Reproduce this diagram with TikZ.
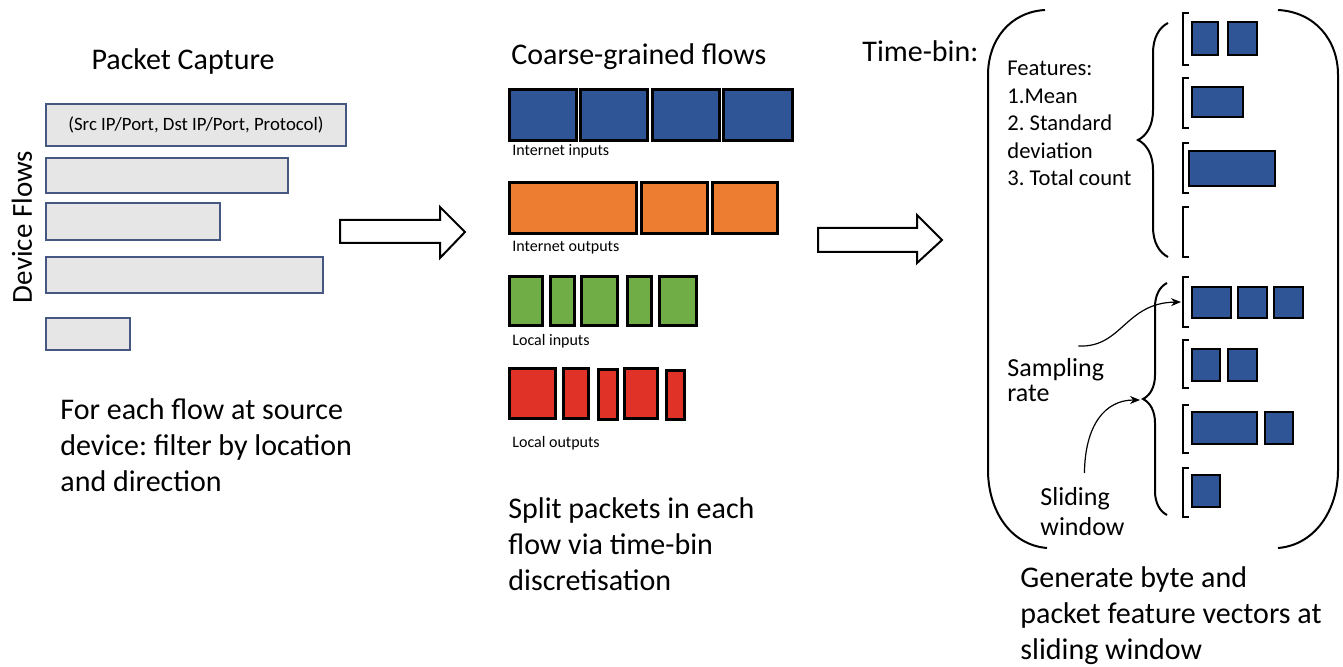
\documentclass[tikz,border=0pt]{standalone}
\usepackage{fontspec}
\setmainfont{Carlito}
\frenchspacing
\usetikzlibrary{arrows.meta,decorations.pathreplacing}
\definecolor{flowblue}{RGB}{47,85,151}
\definecolor{floworange}{RGB}{237,125,49}
\definecolor{flowgreen}{RGB}{112,173,71}
\definecolor{flowred}{RGB}{224,50,38}
\definecolor{bargray}{RGB}{231,230,230}
\definecolor{barline}{RGB}{70,88,130}

\begin{document}
\begin{tikzpicture}[x=0.5pt,y=-0.5pt,
  bigtext/.style={font=\fontsize{15}{18}\selectfont, inner sep=0pt},
  smalltext/.style={font=\fontsize{8}{9}\selectfont, inner sep=0pt},
  feattext/.style={font=\fontsize{11.3}{13.75}\selectfont, inner sep=0pt},
  flowbar/.style={fill=bargray, draw=barline, line width=0.6pt},
  binbox/.style={draw=black, line width=1.5pt},
  featbox/.style={fill=flowblue, draw=black, line width=1pt},
  blockarrow/.style={draw=black, line width=1pt, fill=white, line join=miter},
  sqbracket/.style={line width=1pt},
  curlybrace/.style={line width=1pt, decorate, decoration={brace, amplitude=#1}},
  pointer/.style={-{Stealth[length=5pt,width=4pt]}, line width=0.6pt}]
\useasboundingbox (0,0) rectangle (1343,667);
%  Packet capture: one bar per device flow
\node[bigtext, anchor=base] (pcap) at (183,70) {Packet Capture};
\node[font=\fontsize{14.5}{16}\selectfont, inner sep=0pt, rotate=90, anchor=base] (devflows) at (32,227) {Device Flows};
\draw[flowbar] (46,104) rectangle (346,146);
\draw[flowbar] (46,158) rectangle (288,193);
\draw[flowbar] (46,203) rectangle (220,240);
\draw[flowbar] (46,257) rectangle (323,293);
\draw[flowbar] (46,318) rectangle (130,350);
\node[font=\fontsize{9.4}{10}\selectfont, inner sep=0pt] (tuple) at (196,125) {(Src IP/Port, Dst IP/Port, Protocol)};
\node[bigtext, anchor=north west, align=left] (filter) at (60,398) {For each flow at source\\device: filter by location\\and direction};
%  first step arrow
\draw[blockarrow] (340,220) -- (440,220) -- (440,207) -- (465,232) -- (440,258) -- (440,243) -- (340,243) -- cycle;
%  Coarse-grained flows, split in time-bins
\node[bigtext, anchor=base west] (coarse) at (511,65) {Coarse-grained flows};
\draw[binbox, fill=flowblue] (509,90) rectangle (576,141) (580,90) rectangle (647,141)
  (652,90) rectangle (719,141) (723,90) rectangle (792,141);
\node[smalltext, anchor=base west] (inetin) at (512,156) {Internet inputs};
\draw[binbox, fill=floworange] (509,183) rectangle (636,234) (641,183) rectangle (707,234)
  (712,183) rectangle (777,234);
\node[smalltext, anchor=base west] (inetout) at (512,252) {Internet outputs};
\draw[binbox, fill=flowgreen] (509,277) rectangle (542,326) (550,277) rectangle (574,326)
  (581,277) rectangle (617,326) (627,277) rectangle (651,326) (659,277) rectangle (696,326);
\node[smalltext, anchor=base west] (locin) at (512,346) {Local inputs};
\draw[binbox, fill=flowred] (509,369) rectangle (555,419) (563,369) rectangle (588,419)
  (598,370) rectangle (617,420) (624,369) rectangle (657,419) (666,371) rectangle (684,420);
\node[smalltext, anchor=base west] (locout) at (512,448) {Local outputs};
\node[bigtext, anchor=north west, align=left] (split) at (508,497) {Split packets in each\\flow via time-bin\\discretisation};
%  second step arrow
\draw[blockarrow] (818,228) -- (917,228) -- (917,215) -- (942,240) -- (917,263) -- (917,252) -- (818,252) -- cycle;
%  Time-bin: features over sliding windows
\node[bigtext, anchor=base west] (timebin) at (862,62) {Time-bin:};
\draw[line width=1pt] (1045,10) .. controls (1010,12) and (988,40) .. (988,75) -- (988,470)
  .. controls (988,510) and (1010,545) .. (1047,548);
\draw[line width=1pt] (1278,10) .. controls (1315,12) and (1338,40) .. (1338,75) -- (1338,470)
  .. controls (1338,510) and (1315,545) .. (1278,548);
\node[feattext, anchor=north west, align=left] (feats) at (1007,61) {Features:\\1.Mean\\2. Standard\\deviation\\3. Total count};
% upper group of bins
\draw[curlybrace=15pt] (1168,257) -- (1168,23);
\draw[sqbracket] (1189,13) -- (1183,13) -- (1183,65) -- (1189,65)
  (1189,78) -- (1183,78) -- (1183,128) -- (1189,128)
  (1189,143) -- (1183,143) -- (1183,193) -- (1189,193)
  (1189,207) -- (1183,207) -- (1183,257) -- (1189,257);
\draw[featbox] (1192,22) rectangle (1218,55) (1228,22) rectangle (1257,55);
\draw[featbox] (1192,87) rectangle (1243,117);
\draw[featbox] (1189,151) rectangle (1275,186);
% lower group of bins
\draw[curlybrace=12pt] (1167,515) -- (1167,283);
\draw[sqbracket] (1189,277) -- (1183,277) -- (1183,327) -- (1189,327)
  (1189,340) -- (1183,340) -- (1183,388) -- (1189,388)
  (1189,405) -- (1183,405) -- (1183,453) -- (1189,453)
  (1189,468) -- (1183,468) -- (1183,517) -- (1189,517);
\draw[featbox] (1192,287) rectangle (1231,318) (1238,287) rectangle (1267,318) (1274,287) rectangle (1303,318);
\draw[featbox] (1192,349) rectangle (1220,381) (1228,349) rectangle (1257,381);
\draw[featbox] (1192,412) rectangle (1257,444) (1265,412) rectangle (1293,444);
\draw[featbox] (1192,475) rectangle (1220,507);
\coordinate (ratetip) at (1181,302);
\coordinate (slidetip) at (1140,400);
\node[font=\fontsize{13}{12.5}\selectfont, inner sep=0pt, anchor=north west, align=left] (samp) at (1007,358) {Sampling\\rate};
\node[font=\fontsize{13}{15}\selectfont, inner sep=0pt, anchor=north west, align=left] (slide) at (1040,487) {Sliding\\window};
\draw[pointer] ([xshift=-13pt,yshift=6pt]samp.north east) .. controls (1122,348) and (1125,303) .. (ratetip);
\draw[pointer] ([xshift=1pt,yshift=7pt]slide.north) .. controls (1085,425) and (1105,400) .. (slidetip);
\node[bigtext, anchor=north west, align=left] (genvec) at (1020,566) {Generate byte and\\packet feature vectors at\\sliding window};
\end{tikzpicture}
\end{document}
